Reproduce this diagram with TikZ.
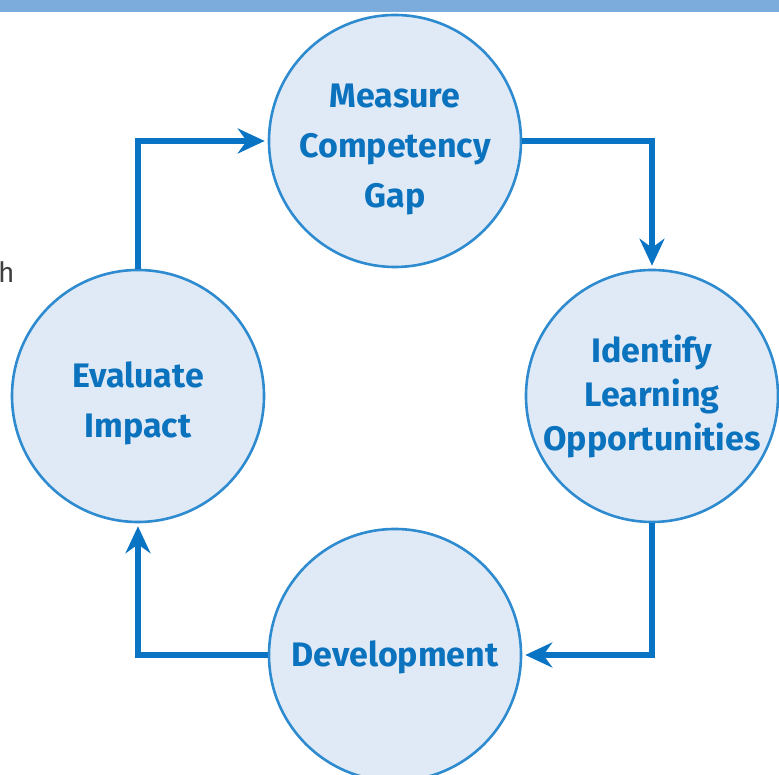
\documentclass[tikz,border=0pt]{standalone}
\usepackage{fontspec}
\setmainfont{Fira Sans}
\usetikzlibrary{arrows.meta}
\usetikzlibrary{positioning}
\definecolor{bandblue}{RGB}{123,172,220}
\definecolor{circfill}{RGB}{224,234,247}
\definecolor{circline}{RGB}{46,139,208}
\definecolor{arrowblue}{RGB}{10,116,196}
\definecolor{textblue}{RGB}{11,114,190}

\begin{document}
\begin{tikzpicture}[x=1pt,y=1pt,
		stage/.style={circle,draw=circline,fill=circfill,line width=2.6pt,minimum size=252pt,inner sep=0pt},
		stagetext/.style={align=center,text=textblue,inner sep=0pt,font=\fontsize{34}{50}\selectfont\bfseries},
		flow/.style={draw=arrowblue,line width=5.5pt,
			-{Stealth[length=27pt,width=25pt,inset=9pt]},shorten >=3pt}]
		\useasboundingbox (0,0) rectangle (779,775);
		\fill[bandblue] (0,763) rectangle (779,775);

		\node[stage] (measure) at (395,634) {};
		\node[stage] (identify) at (652,379) {};
		\node[stage] (develop) at (395,120) {};
		\node[stage] (evaluate) at (138,379) {};

		\node[stagetext,yshift=-9pt] (measuretxt) at (measure) {Measure\\Competency\\Gap};
		\node[stagetext,font=\fontsize{34}{44}\selectfont\bfseries] (identifytxt) at (identify) {Identify\\Learning\\Opportunities};
		\node[stagetext,yshift=-2pt] (developtxt) at (develop) {Development};
		\node[stagetext,yshift=-7pt] (evaluatetxt) at (evaluate) {Evaluate\\Impact};

		% cut-off text at the left edge
		\node[anchor=base west,inner sep=0pt,text=black!75,font=\fontsize{28}{28}\selectfont] (cut) at (-2,492) {h};

		\draw[flow] (evaluate.north) |- (measure.west);
		\draw[flow] (measure.east) -| (identify.north);
		\draw[flow] (identify.south) |- (develop.east);
		\draw[flow] (develop.west) -| (evaluate.south);
	\end{tikzpicture}
\end{document}
